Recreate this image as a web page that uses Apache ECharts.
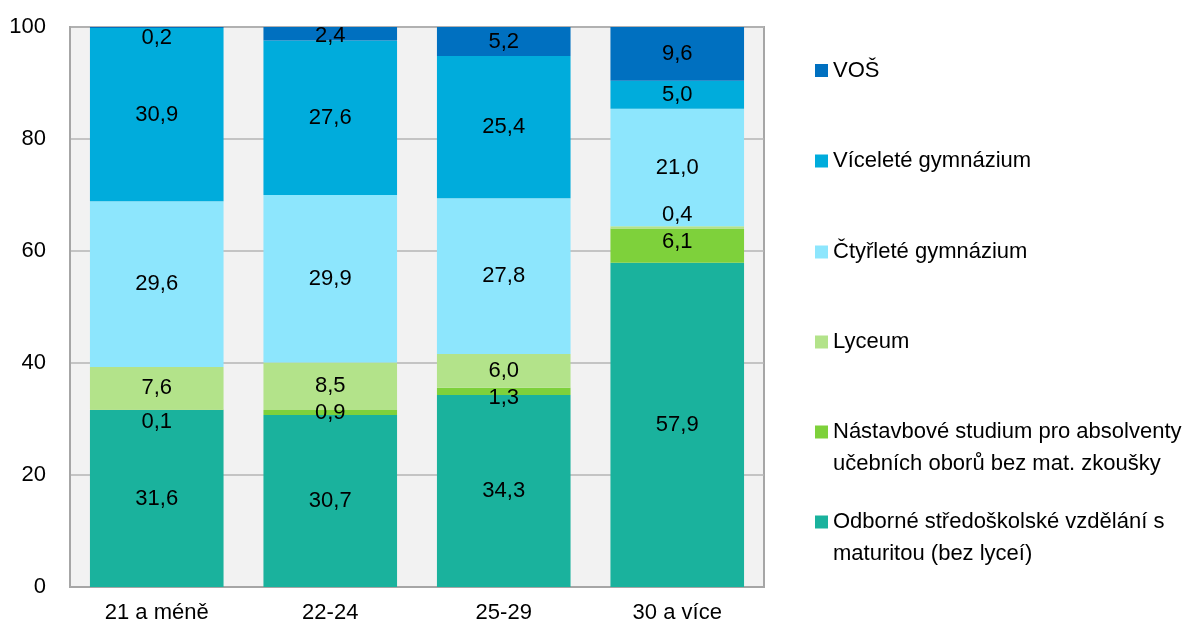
<!DOCTYPE html>
<html>
<head>
<meta charset="utf-8">
<script src="https://cdn.jsdelivr.net/npm/echarts@6/dist/echarts.min.js"></script>
<style>
  html, body { margin: 0; padding: 0; background: #fff; }
  #chart { width: 1185px; height: 628px; }
</style>
</head>
<body>
<div id="chart"></div>
<script>
// age groups
const categories = ['21 a méně', '22-24', '25-29', '30 a více'];

// series, bottom of the stack first
const odborne = [31.6, 30.7, 34.3, 57.9];
const nastavbove = [0.1, 0.9, 1.3, 6.1];
const lyceum = [7.6, 8.5, 6.0, 0.4];
const ctyrlete = [29.6, 29.9, 27.8, 21.0];
const viceleta = [30.9, 27.6, 25.4, 5.0];
const vos = [0.2, 2.4, 5.2, 9.6];

const yTicks = [0, 20, 40, 60, 80, 100];

const seriesDefs = [
  { name: 'Odborné středoškolské vzdělání s\nmaturitou (bez lyceí)', data: odborne, color: '#1ab29d' },
  { name: 'Nástavbové studium pro absolventy\nučebních oborů bez mat. zkoušky', data: nastavbove, color: '#7ed13b' },
  { name: 'Lyceum', data: lyceum, color: '#b3e38a' },
  { name: 'Čtyřleté gymnázium', data: ctyrlete, color: '#8de6fd' },
  { name: 'Víceleté gymnázium', data: viceleta, color: '#00acdc' },
  { name: 'VOŠ', data: vos, color: '#0070c0' }
];

// label nudges (px) for the thin segments, as placed in the original
// key: series index -> { category index: dy }
const labelNudge = {
  1: { 0: 12, 2: 7, 3: -4 },
  2: { 3: -13 },
  5: { 0: 10, 1: 2 }
};

const fmt = v => v.toFixed(1).replace('.', ',');
const font = 'Liberation Sans, Arial, sans-serif';

const series = seriesDefs.map((s, si) => ({
  name: s.name,
  type: 'bar',
  stack: 'total',
  barCategoryGap: '23%',
  itemStyle: { color: s.color },
  label: {
    show: true,
    position: 'inside',
    color: '#000',
    fontFamily: font,
    fontSize: 22,
    formatter: p => fmt(p.value)
  },
  data: s.data.map((v, di) => {
    const dy = labelNudge[si] && labelNudge[si][di];
    return dy ? { value: v, label: { offset: [0, dy] } } : v;
  })
}));

// legend, top to bottom, one block each
const legendCenters = [70.5, 161, 252, 342, 432, 522];
const legendOrder = seriesDefs.slice().reverse();
const legends = legendOrder.map((s, i) => {
  const twoLines = s.name.indexOf('\n') >= 0;
  return {
    data: [s.name],
    left: 815,
    top: twoLines ? legendCenters[i] - 48 : legendCenters[i] - 16,
    orient: 'vertical',
    padding: 0,
    icon: 'rect',
    itemWidth: 13,
    itemHeight: 13,
    selectedMode: false,
    // empty first line keeps the marker level with the first text line
    formatter: name => (name.indexOf('\n') >= 0 ? '\n' + name : name),
    textStyle: {
      color: '#000',
      fontFamily: font,
      fontSize: 22,
      lineHeight: 32
    }
  };
});

const chart = echarts.init(document.getElementById('chart'));
chart.setOption({
  animation: false,
  legend: legends,
  grid: {
    left: 70,
    right: 421,
    top: 27,
    bottom: 41,
    show: true,
    backgroundColor: '#f2f2f2',
    borderColor: '#a6a6a6',
    borderWidth: 2
  },
  xAxis: {
    type: 'category',
    data: categories,
    axisLine: { lineStyle: { color: '#a6a6a6', width: 2 } },
    axisTick: { show: false },
    axisLabel: { color: '#000', fontFamily: font, fontSize: 22, margin: 15 }
  },
  yAxis: {
    type: 'value',
    min: yTicks[0],
    max: yTicks[yTicks.length - 1],
    interval: yTicks[1] - yTicks[0],
    axisLine: { show: true, lineStyle: { color: '#a6a6a6', width: 2 } },
    axisTick: { show: false },
    splitLine: { lineStyle: { color: '#b4b4b4', width: 1.5 } },
    axisLabel: { color: '#000', fontFamily: font, fontSize: 22, margin: 24 }
  },
  series: series
});
</script>
</body>
</html>
